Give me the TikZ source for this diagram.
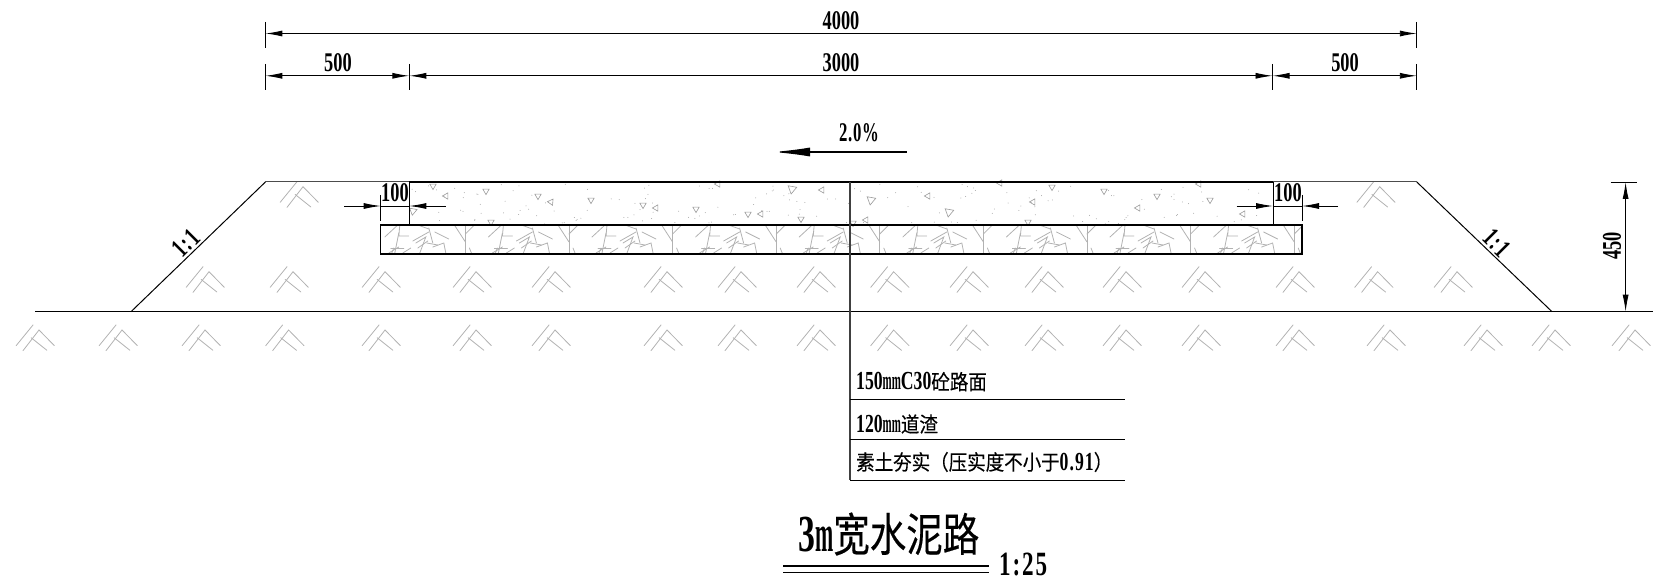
\documentclass[tikz,border=0pt]{standalone}
\usepackage{fontspec}
\setmainfont{Liberation Serif}
\newfontfamily\cjk{Noto Sans CJK SC}[FakeBold=0.35]
\usetikzlibrary{arrows.meta}
\newcommand{\cadnum}[3][0.68]{\scalebox{#1}[1]{\fontsize{#2}{#2}\bfseries\selectfont #3}}
\newcommand{\cadcjk}[3][1.14]{\scalebox{1}[#1]{\cjk\fontsize{#2}{#2}\selectfont #3}}
\tikzset{
  dimline/.style={line width=0.9pt,{Latex[length=17pt,width=6pt]}-{Latex[length=17pt,width=6pt]}},
  dimtick/.style={line width=0.7pt},
  inarrow/.style={line width=0.9pt,-{Latex[length=17pt,width=6pt]}},
  outline/.style={line width=1pt},
  heavy/.style={line width=1.5pt},
  hatchline/.style={line width=0.8pt,color=black!30,line cap=round},
  dimtext/.style={inner sep=0pt},
  soilmark/.pic={
    \draw[hatchline] (-22.9,15.7) -- (-6,-5);
    \draw[hatchline] (-16,20.7) -- (0,0) -- (15.4,15.7);
    \draw[hatchline] (-7.9,7.7) -- (7.9,20.3);
  },
  concmark/.pic={
    \draw[line width=0.6pt,color=black!40] (90:3.6) -- (210:3.6) -- (330:3.6) -- cycle;
  },
  gravelmark/.pic={
    \draw[hatchline] (-11,0) -- (0,17); \draw[hatchline] (0,0) -- (0,28);
    \draw[hatchline] (0,9) -- (10,-1); \draw[hatchline] (4,23) -- (6,28);
    \draw[hatchline] (6,28) -- (16,28);
    \draw[hatchline] (23,12) -- (36,0); \draw[hatchline] (37,8) -- (33,28);
    \draw[hatchline] (38,0) -- (37,11) -- (47,11);
    \draw[hatchline] (56,0) -- (67,4); \draw[hatchline] (51,16) -- (67,7);
    \draw[hatchline] (67,3) -- (71,18); \draw[hatchline] (73,7) -- (87,14);
    \draw[hatchline] (54,18) -- (64,12) -- (58,28);
    \draw[hatchline] (56,23) -- (66,16);
    \draw[hatchline] (65,18) -- (76,20); \draw[hatchline] (71,22) -- (82,18) -- (84,28);
    \draw[hatchline] (27,28) -- (37,22); \draw[hatchline] (32,23) -- (30,28);
    \draw[hatchline] (29,23) -- (42,23);
    \draw[hatchline] (41,28) -- (49,23);
  }
}
\begin{document}
\begin{tikzpicture}[x=1pt,y=-1pt]
\useasboundingbox (0,0) rectangle (1653,585);

% soil hatching
\foreach \px in {209,293,385,476,555,667,741,820,893.6,973,1048,1126,1205,1299,1377.6,1457}
  \pic at (\px,271.7) {soilmark};
\foreach \px in {39,122,205,288.6,385,476,555,667,741,820,893.6,973,1048,1126,1205,1299,1390,1487,1555,1635}
  \pic at (\px,330) {soilmark};
\pic at (303,186.7) {soilmark};
\pic at (1379.7,186.7) {soilmark};

% gravel layer
\begin{scope}
\clip (380.7,225) rectangle (1302,254);
\foreach \k in {-3,...,7}
  \pic at ({569+\k*103.6},225) {gravelmark};
\end{scope}

% concrete layer
\pgfmathsetseed{7}
\foreach \i in {1,...,170} {
  \pgfmathsetmacro{\dotx}{412+rnd*858}
  \pgfmathsetmacro{\doty}{184+rnd*40}
  \fill[black!35] (\dotx,\doty) circle (0.5);
}
\foreach \px/\py/\rr/\ss in {433/186/0/1,446/196/30/1,486/191/0/1,538/196/0/1,551/202/25/1,591/200/0/1,413/211/-10/1.2,491/222/0/1,
  718/184/30/1,792/189/-10/1.4,822/190/30/1,643/205/0/1,656/208/30/1,696/209/0/1,748/214/0/1,761/214/30/1,801/219/0/1,853/223/0/1,
  871/200/-10/1.4,928/196/30/1,1033/202/30/1,1052/187/0/1,949/212/-10/1.4,866/220/30/1,1028/222/0/1,1000/183/30/1,
  1104/191/0/1,1157/196/0/1,1210/200/0/1,1199/184/30/1,1138/208/30/1,1243/214/30/1}
  \pic[rotate=\rr,scale=\ss] at (\px,\py) {concmark};

% road section
\coordinate (topL) at (265.4,182);
\coordinate (topR) at (1416.8,182);
\coordinate (footL) at (131,311.7);
\coordinate (footR) at (1552,311.7);
\coordinate (concL) at (409.3,182);
\coordinate (concR) at (1273,182);
\coordinate (concLb) at (409.3,225);
\coordinate (concRb) at (1273,225);
\coordinate (gndL) at (35,311.7);
\coordinate (gndR) at (1653,311.7);
\draw[outline] (gndL) -- (gndR);
\draw[outline] (footL) -- (topL);
\draw[outline] (footR) -- (topR);
\draw[outline,color=black!70] (topL) -- (concL);
\draw[outline,color=black!70] (concR) -- (topR);
\draw[heavy] (concL) -- (concR);
\draw[outline] (concL) -- (concLb);
\draw[outline] (concR) -- (concRb);
\draw[outline] (concLb) -- (concRb);
\draw[heavy] (380.7,225) rectangle (1302,254);

% dimensions on top
\coordinate (d1L) at (265.4,33.5);
\coordinate (d1R) at (1416.8,33.5);
\coordinate (d2L) at (265.4,75.8);
\coordinate (d2a) at (409.3,75.8);
\coordinate (d2b) at (1272.5,75.8);
\coordinate (d2R) at (1416.8,75.8);
\draw[dimline] (d1L) -- (d1R);
\draw[dimline] (d2L) -- (d2a);
\draw[dimline] (d2a) -- (d2b);
\draw[dimline] (d2b) -- (d2R);
\draw[dimtick] (265.4,22) -- (265.4,48);
\draw[dimtick] (1416.8,22) -- (1416.8,48);
\draw[dimtick] (265.4,64) -- (265.4,90);
\draw[dimtick] (409.3,64) -- (409.3,90);
\draw[dimtick] (1272.5,64) -- (1272.5,90);
\draw[dimtick] (1416.8,64) -- (1416.8,90);
\node[dimtext] (w4000) at (841,21) {\cadnum{27}{4000}};
\node[dimtext] (w500a) at (338,63) {\cadnum{27}{500}};
\node[dimtext] (w3000) at (841,63) {\cadnum{27}{3000}};
\node[dimtext] (w500b) at (1345,63) {\cadnum{27}{500}};

% slope
\coordinate (slopeA) at (906.5,152);
\coordinate (slopeB) at (773,152);
\draw[line width=1.1pt,-{Latex[length=37pt,width=9pt]}] (slopeA) -- (slopeB);
\node[dimtext] (grade) at (859,133) {\cadnum[0.62]{27}{\addfontfeature{LetterSpace=4}2.0\%}};

% widths 100
\coordinate (edgeL) at (380.7,206);
\coordinate (edgeR) at (1302,206);
\coordinate (outL) at (344,206);
\coordinate (outR) at (1338,206);
\coordinate (inL) at (445.7,206);
\coordinate (inR) at (1236.5,206);
\coordinate (faceL) at (409.3,206);
\coordinate (faceR) at (1273,206);
\draw[inarrow] (outL) -- (edgeL);
\draw[inarrow] (inL) -- (faceL);
\draw[inarrow] (inR) -- (faceR);
\draw[inarrow] (outR) -- (edgeR);
\draw[line width=0.7pt] (edgeL) -- (faceL);
\draw[line width=0.7pt] (faceR) -- (edgeR);
\draw[dimtick] (380.7,195) -- (380.7,221);
\draw[dimtick] (1302,195) -- (1302,221);
\node[dimtext] (gapL) at (395,193) {\cadnum{27}{100}};
\node[dimtext] (gapR) at (1288,193) {\cadnum{27}{100}};

\node[dimtext,rotate=45] (batterL) at (186,243) {\cadnum{27}{\addfontfeature{LetterSpace=6}1:1}};
\node[dimtext,rotate=-45] (batterR) at (1497,243) {\cadnum{27}{\addfontfeature{LetterSpace=6}1:1}};

% height 450
\coordinate (h1) at (1625.6,182);
\coordinate (h2) at (1625.6,311.7);
\draw[dimline] (h1) -- (h2);
\draw[dimtick] (1610.7,182) -- (1637,182);
\draw[dimtick] (1610.7,311.7) -- (1637,311.7);
\node[dimtext,rotate=90] (h450) at (1612,246) {\cadnum{27}{450}};

% layer notes
\coordinate (leadT) at (850,182);
\coordinate (leadB) at (850,480.3);
\coordinate (note1) at (1125,399);
\coordinate (note2) at (1125,439.7);
\coordinate (note3) at (1125,480.3);
\draw[line width=1.2pt,color=black!75] (leadT) -- (leadB);
\draw[outline] (850,399) -- (note1);
\draw[outline] (850,439.7) -- (note2);
\draw[outline] (leadB) -- (note3);
\node[dimtext,anchor=west] (layer1) at (856,381.7) {\cadnum{26}{150}\cadnum[0.42]{26}{mm}\cadnum{26}{C30}\cadcjk{18.5}{砼路面}};
\node[dimtext,anchor=west] (layer2) at (856,424) {\cadnum{26}{120}\cadnum[0.42]{26}{mm}\cadcjk{18.5}{道渣}};
\node[dimtext,anchor=west] (layer3) at (856,462) {\cadcjk{18.5}{素土夯实（压实度不小于}\cadnum{26}{\addfontfeature{LetterSpace=6}0.91}\cadcjk{18.5}{）}};

% title
\node[dimtext,anchor=west] (title) at (798,534) {\cadnum[0.65]{52}{3}\cadnum[0.42]{52}{m}\cadcjk[1.25]{36.5}{宽水泥路}};
\node[dimtext,anchor=west] (scale) at (999,564) {\cadnum{34}{\addfontfeature{LetterSpace=8}1:25}};
\coordinate (ruleL) at (783,566);
\coordinate (ruleR) at (989,566);
\coordinate (ruleLb) at (783,572);
\coordinate (ruleRb) at (989,572);
\draw[line width=2pt] (ruleL) -- (ruleR);
\draw[line width=1pt] (ruleLb) -- (ruleRb);

\end{tikzpicture}
\end{document}
